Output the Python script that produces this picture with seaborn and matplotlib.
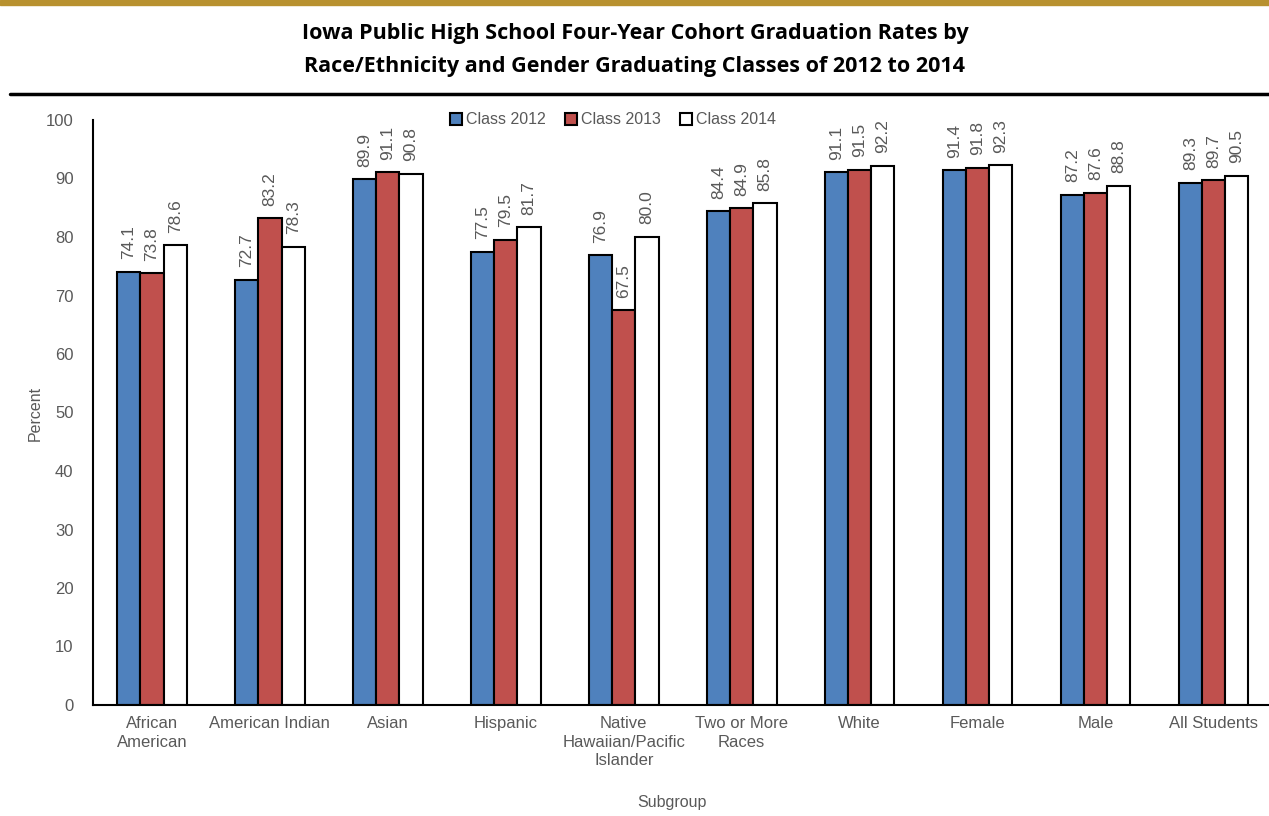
import pandas as pd
import seaborn as sns
import matplotlib.pyplot as plt
from matplotlib.lines import Line2D

# values
subgroups = ['African\nAmerican', 'American Indian', 'Asian', 'Hispanic',
             'Native\nHawaiian/Pacific\nIslander', 'Two or More\nRaces', 'White',
             'Female', 'Male', 'All Students']
class_2012 = [74.1, 72.7, 89.9, 77.5, 76.9, 84.4, 91.1, 91.4, 87.2, 89.3]
class_2013 = [73.8, 83.2, 91.1, 79.5, 67.5, 84.9, 91.5, 91.8, 87.6, 89.7]
class_2014 = [78.6, 78.3, 90.8, 81.7, 80.0, 85.8, 92.2, 92.3, 88.8, 90.5]
series_names = ['Class 2012', 'Class 2013', 'Class 2014']
colors = ['#4F81BD', '#C0504D', '#FFFFFF']

rows = []
for name, vals in zip(series_names, [class_2012, class_2013, class_2014]):
    for sg, v in zip(subgroups, vals):
        rows.append(dict(Subgroup=sg, Series=name, Percent=v))
df = pd.DataFrame(rows)

sns.set_style('white')
plt.rcParams['font.family'] = ['Liberation Sans', 'DejaVu Sans']
gray = '#595959'

fig = plt.figure(figsize=(12.69, 8.16), dpi=100)
ax = fig.add_axes([93 / 1269, 111 / 816, 1176 / 1269, 585 / 816])

sns.barplot(data=df, x='Subgroup', y='Percent', hue='Series', palette=colors,
            saturation=1, width=0.59, edgecolor='black', linewidth=1.5, ax=ax,
            legend=False)

for cont in ax.containers:
    ax.bar_label(cont, fmt='%.1f', rotation=90, padding=9, color=gray, fontsize=12.5)

ax.set_ylim(0, 100)
ax.set_xlim(-0.5, 9.47)
ax.set_yticks(range(0, 101, 10))
ax.tick_params(axis='y', colors=gray, labelsize=12, length=0, pad=14)
ax.tick_params(axis='x', colors=gray, labelsize=12, length=0, pad=8)
for lab in ax.get_xticklabels():
    lab.set_linespacing(1.3)
sns.despine(ax=ax)
ax.spines['left'].set_color('black')
ax.spines['bottom'].set_color('black')
ax.spines['left'].set_linewidth(1.5)
ax.spines['bottom'].set_linewidth(1.5)
ax.set_xlabel('')
ax.set_ylabel('')

fig.text(35 / 1269, 1 - 413 / 816, 'Percent', rotation=90, ha='center', va='center',
         color=gray, fontsize=11.5)
fig.text(672 / 1269, 1 - 803 / 816, 'Subgroup', ha='center', va='center',
         color=gray, fontsize=11.5)

handles = [Line2D([], [], marker='s', linestyle='', markersize=8,
                  markerfacecolor=c, markeredgecolor='black', markeredgewidth=1.5)
           for c in colors]
ax.legend(handles, series_names, loc='center', bbox_to_anchor=(0.438, 1.0),
          ncol=3, frameon=False, handletextpad=-0.4, columnspacing=0.6,
          labelcolor=gray, prop={'size': 11.5}, borderpad=0)

# header decorations
fig.add_artist(plt.Rectangle((0, 1 - 5 / 816), 1, 5 / 816, color='#B8912F',
                             transform=fig.transFigure))
fig.add_artist(Line2D([10 / 1269, 1], [1 - 94 / 816] * 2, color='black', linewidth=2.5,
                      transform=fig.transFigure))
fig.text(635 / 1269, 1 - 50 / 816,
         'Iowa Public High School Four-Year Cohort Graduation Rates by\n'
         'Race/Ethnicity and Gender Graduating Classes of 2012 to 2014',
         ha='center', va='center', fontsize=15.5, fontweight='bold',
         family=['Open Sans', 'DejaVu Sans'], linespacing=1.7, color='black')

fig.savefig('out.png', dpi=100)
